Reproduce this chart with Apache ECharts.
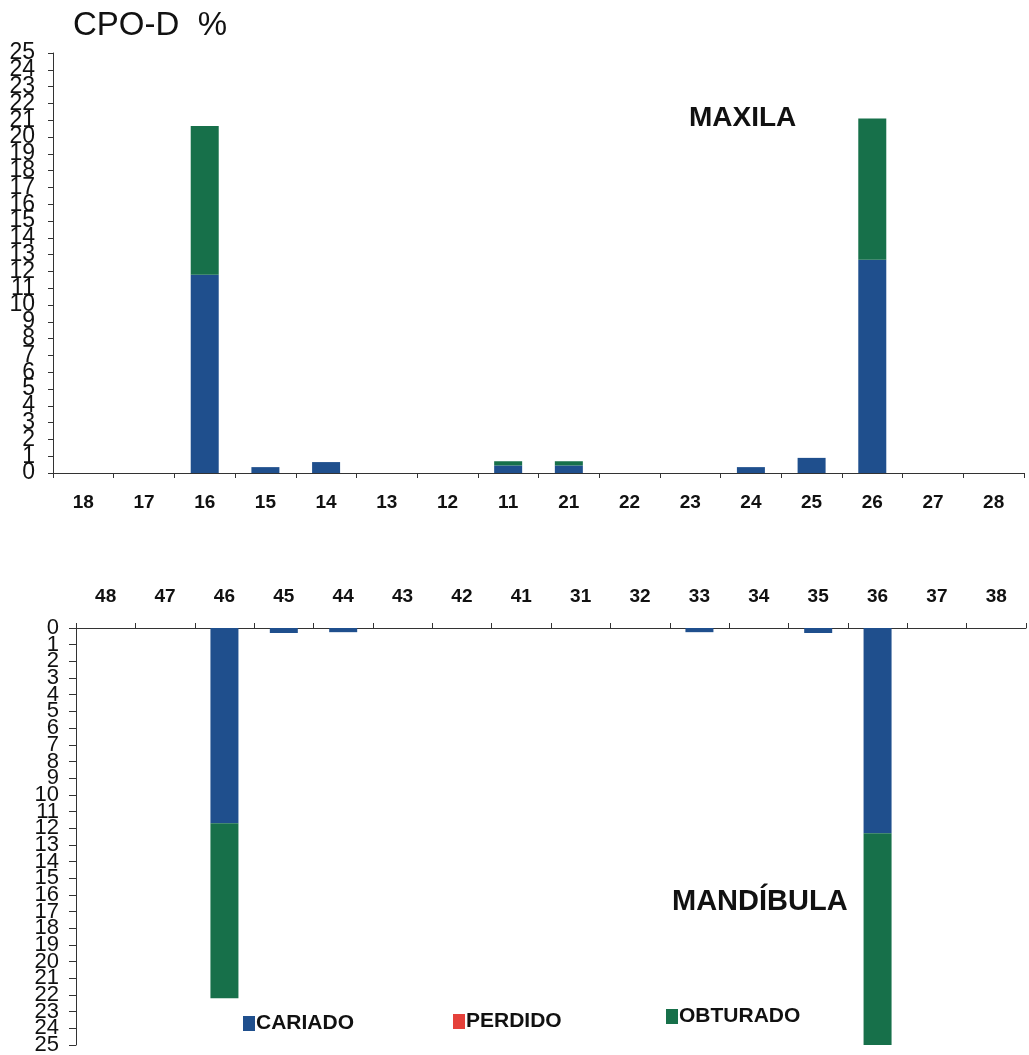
<!DOCTYPE html>
<html>
<head>
<meta charset="utf-8">
<script src="https://cdn.jsdelivr.net/npm/echarts@6/dist/echarts.min.js"></script>
<style>
html,body{margin:0;padding:0;background:#fff;}
#chart{width:1029px;height:1055px;}
</style>
</head>
<body>
<div id="chart"></div>
<script>
// Upper arch (MAXILA)
var upperTeeth = ['18','17','16','15','14','13','12','11','21','22','23','24','25','26','27','28'];
var upperCariado = [0,0,11.8,0.35,0.65,0,0,0.45,0.45,0,0,0.35,0.9,12.7,0,0];
var upperPerdido = [0,0,0,0,0,0,0,0,0,0,0,0,0,0,0,0];
var upperObturado = [0,0,8.85,0,0,0,0,0.25,0.25,0,0,0,0,8.4,0,0];

// Lower arch (MANDÍBULA)
var lowerTeeth = ['48','47','46','45','44','43','42','41','31','32','33','34','35','36','37','38'];
var lowerCariado = [0,0,11.7,0.3,0.25,0,0,0,0,0,0.25,0,0.3,12.3,0,0];
var lowerPerdido = [0,0,0,0,0,0,0,0,0,0,0,0,0,0,0,0];
var lowerObturado = [0,0,10.5,0,0,0,0,0,0,0,0,0,0,12.7,0,0];

// Percent tick labels 0..25
var yTickLabels = ['0','1','2','3','4','5','6','7','8','9','10','11','12','13','14','15','16','17','18','19','20','21','22','23','24','25'];
var yMax = 25;

var FONT = '"Liberation Sans", Arial, sans-serif';
var BLUE = '#1f4f8d';
var RED = '#e5413b';
var GREEN = '#17704a';
var AXIS = '#333';

var chart = echarts.init(document.getElementById('chart'));

function barSeries(name, data, color, xi, yi) {
  return {
    name: name, type: 'bar', stack: 's' + xi, data: data,
    xAxisIndex: xi, yAxisIndex: yi, barWidth: 28,
    itemStyle: { color: color }, animation: false
  };
}

function legendItem(name, left, top) {
  return { data: [name], left: left, top: top, padding: 0, itemWidth: 12, itemHeight: 15, itemGap: 0, icon: 'rect',
    textStyle: { fontFamily: FONT, fontSize: 21, fontWeight: 'bold', color: '#111', padding: [0,0,0,-4] } };
}

function labelAxis(gridIndex, inverse, fontSize, margin, tickLen) {
  return { type: 'category', gridIndex: gridIndex, position: 'left', data: yTickLabels, boundaryGap: false, inverse: inverse,
    axisLine: { show: true, onZero: false, lineStyle: { color: AXIS, width: 1 } },
    axisTick: { show: true, interval: 0, length: tickLen, lineStyle: { color: AXIS } },
    splitLine: { show: false },
    axisLabel: { interval: 0, fontFamily: FONT, fontSize: fontSize, color: '#111', margin: margin } };
}

var option = {
  backgroundColor: '#fff',
  animation: false,
  title: [
    { text: 'CPO-D  %', left: 73, top: 9, padding: 0, textStyle: { fontFamily: FONT, fontSize: 33, fontWeight: 'normal', color: '#111' } },
    { text: 'MAXILA', left: 689, top: 104, padding: 0, textStyle: { fontFamily: FONT, fontSize: 28, fontWeight: 'bold', color: '#111' } },
    { text: 'MANDÍBULA', left: 672, top: 887, padding: 0, textStyle: { fontFamily: FONT, fontSize: 29, fontWeight: 'bold', color: '#111' } }
  ],
  legend: [
    legendItem('CARIADO', 243, 1013),
    legendItem('PERDIDO', 453, 1011),
    legendItem('OBTURADO', 666, 1006)
  ],
  grid: [
    { left: 53, top: 53, width: 971, height: 420, outerBoundsMode: 'none', containLabel: false },
    { left: 76, top: 628, width: 950, height: 417, outerBoundsMode: 'none', containLabel: false }
  ],
  xAxis: [
    { type: 'category', gridIndex: 0, data: upperTeeth, position: 'bottom',
      axisLine: { lineStyle: { color: AXIS, width: 1 } },
      axisTick: { show: true, length: 5, lineStyle: { color: AXIS } },
      axisLabel: { fontFamily: FONT, fontSize: 19, fontWeight: 'bold', color: '#111', margin: 20 } },
    { type: 'category', gridIndex: 1, data: lowerTeeth, position: 'top',
      axisLine: { lineStyle: { color: AXIS, width: 1 } },
      axisTick: { show: true, length: 5, lineStyle: { color: AXIS } },
      axisLabel: { fontFamily: FONT, fontSize: 19, fontWeight: 'bold', color: '#111', margin: 22 } }
  ],
  yAxis: [
    { type: 'value', gridIndex: 0, position: 'right', min: 0, max: yMax, interval: 1, show: false, splitLine: { show: false } },
    { type: 'value', gridIndex: 1, position: 'right', min: 0, max: yMax, interval: 1, inverse: true, show: false, splitLine: { show: false } },
    labelAxis(0, false, 23, 18, 5),
    labelAxis(1, true, 22, 17, 7)
  ],
  series: [
    barSeries('CARIADO', upperCariado, BLUE, 0, 0),
    barSeries('PERDIDO', upperPerdido, RED, 0, 0),
    barSeries('OBTURADO', upperObturado, GREEN, 0, 0),
    barSeries('CARIADO', lowerCariado, BLUE, 1, 1),
    barSeries('PERDIDO', lowerPerdido, RED, 1, 1),
    barSeries('OBTURADO', lowerObturado, GREEN, 1, 1)
  ]
};
chart.setOption(option);
</script>
</body>
</html>
